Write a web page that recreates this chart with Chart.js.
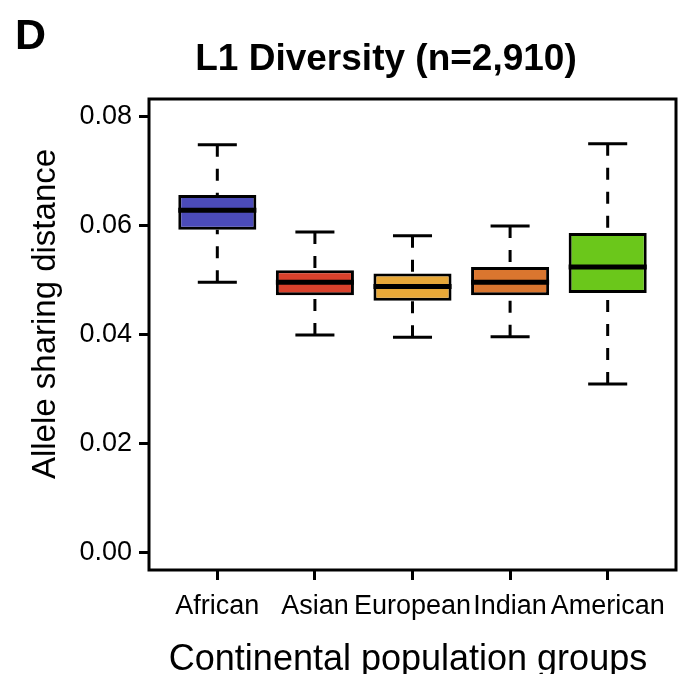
<!DOCTYPE html>
<html>
<head>
<meta charset="utf-8">
<title>L1 Diversity</title>
<script src="https://cdn.jsdelivr.net/npm/chart.js@4.4.1/dist/chart.umd.min.js"></script>
<style>
    html, body { margin: 0; padding: 0; background: #ffffff; }
    canvas { display: block; }
</style>
</head>
<body>
<canvas id="diversityChart" width="689" height="674"></canvas>
<script>
// 各大洲人群的箱线图统计量
const categories = ['African', 'Asian', 'European', 'Indian', 'American'];
const lowerWhisker = [0.0496, 0.0399, 0.0395, 0.0396, 0.0309];
const q1 = [0.0592, 0.0472, 0.0462, 0.0472, 0.0476];
const median = [0.0628, 0.0496, 0.0488, 0.0496, 0.0524];
const q3 = [0.0656, 0.0518, 0.0512, 0.0524, 0.0586];
const upperWhisker = [0.0748, 0.0588, 0.0581, 0.0599, 0.0750];
const boxColors = ['#4b4bb9', '#d9412c', '#e8a838', '#da762f', '#6bc71b'];
const yTicks = [0, 0.02, 0.04, 0.06, 0.08];

const FONT = "'Liberation Sans', Arial, Helvetica, sans-serif";

// 须线、须线端帽、中位线、外框和标题
const boxPlotExtras = {
    id: 'boxPlotExtras',
    afterDatasetsDraw(chart) {
        const ctx = chart.ctx;
        const x = chart.scales.x;
        const y = chart.scales.y;
        const bars = chart.getDatasetMeta(0).data;
        ctx.save();
        ctx.strokeStyle = '#000';
        ctx.lineCap = 'butt';
        categories.forEach((name, i) => {
            const cx = x.getPixelForValue(i + 1);
            const half = bars[i].width / 2;
            const yLo = y.getPixelForValue(lowerWhisker[i]);
            const yQ1 = y.getPixelForValue(q1[i]);
            const yMed = y.getPixelForValue(median[i]);
            const yQ3 = y.getPixelForValue(q3[i]);
            const yHi = y.getPixelForValue(upperWhisker[i]);

            // 虚线须
            ctx.lineWidth = 3;
            ctx.setLineDash([12, 12]);
            ctx.beginPath();
            ctx.moveTo(cx, yHi);
            ctx.lineTo(cx, yQ3);
            ctx.moveTo(cx, yLo);
            ctx.lineTo(cx, yQ1);
            ctx.stroke();

            // 端帽
            ctx.setLineDash([]);
            ctx.beginPath();
            ctx.moveTo(cx - half / 2, yHi);
            ctx.lineTo(cx + half / 2, yHi);
            ctx.moveTo(cx - half / 2, yLo);
            ctx.lineTo(cx + half / 2, yLo);
            ctx.stroke();

            // 中位线
            ctx.lineWidth = 5;
            ctx.beginPath();
            ctx.moveTo(cx - half, yMed);
            ctx.lineTo(cx + half, yMed);
            ctx.stroke();
        });

        // 外框
        const area = chart.chartArea;
        ctx.lineWidth = 3;
        ctx.strokeRect(area.left, area.top, area.right - area.left, area.bottom - area.top);
        ctx.restore();
    },
    afterDraw(chart) {
        const ctx = chart.ctx;
        ctx.save();
        ctx.fillStyle = '#000';
        ctx.textBaseline = 'alphabetic';

        // 面板字母
        ctx.font = 'bold 43px ' + FONT;
        ctx.textAlign = 'left';
        ctx.fillText('D', 15, 49);

        // 主标题
        ctx.font = 'bold 37px ' + FONT;
        ctx.textAlign = 'center';
        ctx.fillText('L1 Diversity (n=2,910)', 386, 70);

        // x 轴标题
        ctx.font = '36px ' + FONT;
        ctx.fillText('Continental population groups', 408, 670);

        // y 轴标题
        ctx.font = '33px ' + FONT;
        ctx.translate(55, 314);
        ctx.rotate(-Math.PI / 2);
        ctx.fillText('Allele sharing distance', 0, 0);
        ctx.restore();
    }
};

const ctx = document.getElementById('diversityChart').getContext('2d');
const diversityChart = new Chart(ctx, {
    type: 'bar',
    data: {
        datasets: [{
            label: 'IQR',
            data: categories.map((name, i) => ({ x: i + 1, y: [q1[i], q3[i]] })),
            backgroundColor: boxColors,
            borderColor: '#000',
            borderWidth: 3,
            borderSkipped: false,
            barPercentage: 0.8,
            categoryPercentage: 1.0
        }]
    },
    options: {
        responsive: false,
        animation: false,
        layout: {
            padding: { left: 0, top: 99, right: 13, bottom: 0 }
        },
        plugins: {
            legend: { display: false },
            tooltip: { enabled: false },
            title: { display: false }
        },
        scales: {
            x: {
                type: 'linear',
                min: 0.3,
                max: 5.7,
                offset: false,
                border: { display: false },
                grid: {
                    offset: false,
                    drawOnChartArea: false,
                    drawTicks: true,
                    tickLength: 10,
                    tickWidth: 3,
                    tickColor: '#000'
                },
                ticks: {
                    autoSkip: false,
                    maxRotation: 0,
                    padding: 10,
                    color: '#000',
                    font: { family: FONT, size: 27 },
                    callback: value => categories[value - 1]
                },
                afterBuildTicks: scale => {
                    scale.ticks = categories.map((name, i) => ({ value: i + 1 }));
                },
                afterFit: scale => {
                    scale.height = 104;
                }
            },
            y: {
                min: -0.0032,
                max: 0.0832,
                border: { display: false },
                grid: {
                    drawOnChartArea: false,
                    drawTicks: true,
                    tickLength: 10,
                    tickWidth: 3,
                    tickColor: '#000'
                },
                ticks: {
                    padding: 7,
                    color: '#000',
                    font: { family: FONT, size: 27 },
                    callback: value => value.toFixed(2)
                },
                afterBuildTicks: scale => {
                    scale.ticks = yTicks.map(v => ({ value: v }));
                },
                afterFit: scale => {
                    scale.width = 149;
                }
            }
        }
    },
    plugins: [boxPlotExtras]
});
</script>
</body>
</html>
